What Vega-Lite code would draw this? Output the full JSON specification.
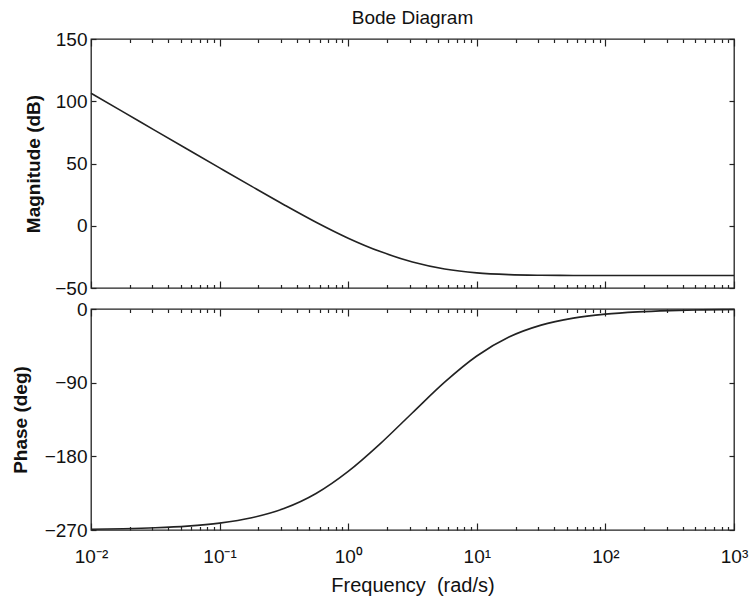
{
  "$schema": "https://vega.github.io/schema/vega-lite/v6.json",
  "padding": {"left": 10, "top": 8, "right": 5, "bottom": 2},
  "background": "white",
  "spacing": 0,
  "datasets": {
    "bode": [
      {"f": 0.01, "mag": 106.44, "phase": -269.15},
      {"f": 0.017783, "mag": 91.45, "phase": -268.5},
      {"f": 0.031623, "mag": 76.45, "phase": -267.33},
      {"f": 0.056234, "mag": 61.46, "phase": -265.25},
      {"f": 0.1, "mag": 46.49, "phase": -261.56},
      {"f": 0.17783, "mag": 31.6, "phase": -255.07},
      {"f": 0.31623, "mag": 16.92, "phase": -243.85},
      {"f": 0.56234, "mag": 2.82, "phase": -225.44},
      {"f": 1, "mag": -10.0, "phase": -198.43},
      {"f": 1.7783, "mag": -20.78, "phase": -164.44},
      {"f": 3.1623, "mag": -29.09, "phase": -126.73},
      {"f": 5.6234, "mag": -34.71, "phase": -89.38},
      {"f": 10, "mag": -37.85, "phase": -57.4},
      {"f": 17.783, "mag": -39.24, "phase": -34.29},
      {"f": 31.623, "mag": -39.75, "phase": -19.71},
      {"f": 56.234, "mag": -39.92, "phase": -11.17},
      {"f": 100, "mag": -39.97, "phase": -6.3},
      {"f": 177.83, "mag": -39.99, "phase": -3.54},
      {"f": 316.23, "mag": -40.0, "phase": -1.99},
      {"f": 562.34, "mag": -40.0, "phase": -1.12},
      {"f": 1000, "mag": -40.0, "phase": -0.63}
    ]
  },
  "config": {
    "font": "Liberation Sans",
    "view": {"stroke": "#222", "strokeWidth": 1.3},
    "axis": {
      "domain": false,
      "grid": false,
      "labelFont": "Liberation Sans",
      "labelFontSize": 19,
      "labelColor": "#111",
      "labelFlush": false,
      "labelOverlap": false,
      "titleFont": "Liberation Sans",
      "titleFontSize": 19,
      "titleColor": "#111",
      "titleFontWeight": "normal",
      "tickColor": "#222",
      "tickWidth": 1.2
    }
  },
  "vconcat": [
    {
      "width": 643,
      "height": 249,
      "title": {"text": "Bode Diagram", "frame": "group", "anchor": "middle", "fontSize": 19, "fontWeight": "normal", "font": "Liberation Sans", "color": "#111", "offset": 2},
      "data": {"name": "bode"},
      "layer": [
        {
          "mark": {"type": "line", "color": "#222", "strokeWidth": 1.6, "interpolate": "monotone"},
          "encoding": {
            "x": {"field": "f", "type": "quantitative",
              "scale": {"type": "log", "domain": [0.01, 1000], "nice": false},
              "axis": {"orient": "bottom", "title": null, "labels": false,
                "values": [0.01,0.02,0.03,0.04,0.05,0.06,0.07,0.08,0.09,0.1,0.2,0.3,0.4,0.5,0.6,0.7,0.8,0.9,1,2,3,4,5,6,7,8,9,10,20,30,40,50,60,70,80,90,100,200,300,400,500,600,700,800,900,1000],
                "tickSize": {"condition": {"test": "abs(log(datum.value)/LN10 - round(log(datum.value)/LN10)) < 0.001", "value": -7}, "value": -3.5}}},
            "y": {"field": "mag", "type": "quantitative",
              "scale": {"domain": [-50, 150], "nice": false},
              "axis": {"orient": "left", "title": "Magnitude (dB)", "titleFontWeight": "bold", "values": [-50, 0, 50, 100, 150], "tickSize": -5, "labelPadding": 9, "titlePadding": 11}}
          }
        },
        {
          "mark": {"type": "line", "opacity": 0},
          "encoding": {
            "x": {"field": "f", "type": "quantitative",
              "scale": {"type": "log", "domain": [0.01, 1000], "nice": false},
              "axis": {"orient": "top", "title": null, "labels": false,
                "values": [0.01,0.02,0.03,0.04,0.05,0.06,0.07,0.08,0.09,0.1,0.2,0.3,0.4,0.5,0.6,0.7,0.8,0.9,1,2,3,4,5,6,7,8,9,10,20,30,40,50,60,70,80,90,100,200,300,400,500,600,700,800,900,1000],
                "tickSize": {"condition": {"test": "abs(log(datum.value)/LN10 - round(log(datum.value)/LN10)) < 0.001", "value": -7}, "value": -3.5}}},
            "y": {"field": "mag", "type": "quantitative",
              "scale": {"domain": [-50, 150], "nice": false},
              "axis": {"orient": "right", "title": null, "labels": false, "values": [-50, 0, 50, 100, 150], "tickSize": -5}}
          }
        }
      ],
      "resolve": {"axis": {"x": "independent", "y": "independent"}}
    },
    {
      "width": 643,
      "height": 221,
      "data": {"name": "bode"},
      "layer": [
        {
          "mark": {"type": "line", "color": "#222", "strokeWidth": 1.6, "interpolate": "monotone"},
          "encoding": {
            "x": {"field": "f", "type": "quantitative",
              "scale": {"type": "log", "domain": [0.01, 1000], "nice": false},
              "axis": {"orient": "bottom", "title": "Frequency\u00a0\u00a0(rad/s)", "titlePadding": 6, "titleFontSize": 20,
                "values": [0.01,0.02,0.03,0.04,0.05,0.06,0.07,0.08,0.09,0.1,0.2,0.3,0.4,0.5,0.6,0.7,0.8,0.9,1,2,3,4,5,6,7,8,9,10,20,30,40,50,60,70,80,90,100,200,300,400,500,600,700,800,900,1000],
                "labelExpr": "datum.value == 0.01 ? '10⁻²' : datum.value == 0.1 ? '10⁻¹' : datum.value == 1 ? '10⁰' : datum.value == 10 ? '10¹' : datum.value == 100 ? '10²' : datum.value == 1000 ? '10³' : ''",
                "labelPadding": 24,
                "tickSize": {"condition": {"test": "abs(log(datum.value)/LN10 - round(log(datum.value)/LN10)) < 0.001", "value": -7}, "value": -3.5}}},
            "y": {"field": "phase", "type": "quantitative",
              "scale": {"domain": [-270, 0], "nice": false},
              "axis": {"orient": "left", "title": "Phase (deg)", "titleFontWeight": "bold", "values": [-270, -180, -90, 0], "tickSize": -5, "labelPadding": 9, "titlePadding": 14}}
          }
        },
        {
          "mark": {"type": "line", "opacity": 0},
          "encoding": {
            "x": {"field": "f", "type": "quantitative",
              "scale": {"type": "log", "domain": [0.01, 1000], "nice": false},
              "axis": {"orient": "top", "title": null, "labels": false,
                "values": [0.01,0.02,0.03,0.04,0.05,0.06,0.07,0.08,0.09,0.1,0.2,0.3,0.4,0.5,0.6,0.7,0.8,0.9,1,2,3,4,5,6,7,8,9,10,20,30,40,50,60,70,80,90,100,200,300,400,500,600,700,800,900,1000],
                "tickSize": {"condition": {"test": "abs(log(datum.value)/LN10 - round(log(datum.value)/LN10)) < 0.001", "value": -7}, "value": -3.5}}},
            "y": {"field": "phase", "type": "quantitative",
              "scale": {"domain": [-270, 0], "nice": false},
              "axis": {"orient": "right", "title": null, "labels": false, "values": [-270, -180, -90, 0], "tickSize": -5}}
          }
        }
      ],
      "resolve": {"axis": {"x": "independent", "y": "independent"}}
    }
  ]
}
